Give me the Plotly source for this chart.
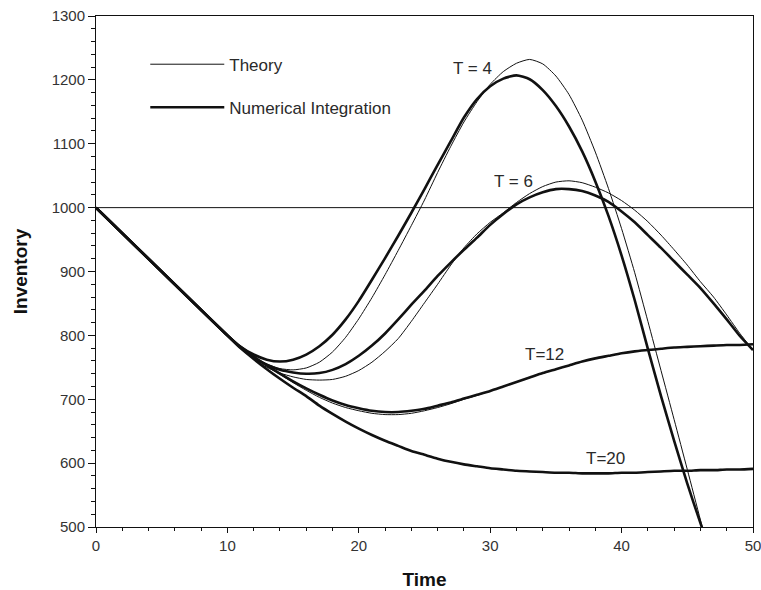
import plotly.graph_objects as go

# ---------------- data ----------------
# common time grid (t = 0 .. 50); the early part is a straight decline
time_full = [0, 10] + list(range(11, 51))
time_T4 = [0, 10] + list(range(11, 48))

# T = 4
t4_theory = [1000, 800, 781, 766, 755, 748, 746, 749, 758, 774, 797, 826, 859, 895,
             933, 972, 1012, 1055, 1096, 1134, 1166, 1193, 1213, 1226, 1232, 1225,
             1206, 1177, 1137, 1087, 1030, 967, 898, 822, 745, 668, 590, 511, 432]
t4_numeric = [1000, 800, 782, 770, 762, 759, 762, 770, 783, 801, 825, 854, 887, 921,
              956, 992, 1029, 1067, 1104, 1141, 1170, 1190, 1202, 1207, 1201, 1184,
              1159, 1127, 1088, 1041, 987, 925, 855, 779, 705, 635, 568, 506, 447]

# T = 6
t6_theory = [1000, 800, 780, 763, 750, 741, 735, 731, 730, 731, 736, 745, 758, 775,
             795, 822, 851, 880, 910, 937, 959, 977, 992, 1008, 1022, 1033, 1040,
             1042, 1039, 1032, 1023, 1011, 996, 978, 957, 934, 910, 884, 860, 832,
             803, 777]
t6_numeric = [1000, 800, 781, 765, 754, 746, 742, 740, 741, 746, 755, 768, 784, 803,
              825, 848, 870, 893, 914, 934, 953, 973, 990, 1005, 1016, 1024, 1029,
              1029, 1026, 1019, 1009, 994, 977, 957, 937, 916, 895, 874, 850, 825,
              799, 777]

# T = 12
t12_theory = [1000, 800, 782, 767, 752, 739, 726, 714, 703, 694, 687, 682, 678, 676,
              676, 678, 682, 687, 693, 700, 706, 713, 720, 727, 734, 741, 747, 753,
              759, 764, 768, 772, 775, 777, 779, 781, 782, 783, 784, 785, 785, 786]
t12_numeric = [1000, 800, 782, 767, 753, 740, 728, 717, 707, 698, 691, 686, 682, 680,
               680, 682, 685, 690, 695, 701, 707, 713, 720, 727, 734, 741, 747, 753,
               759, 764, 768, 772, 775, 777, 779, 781, 782, 783, 784, 785, 785, 786]

# T = 20
t20_theory = [1000, 800, 780, 763, 747, 732, 718, 705, 690, 677, 665, 654, 644, 635,
              627, 619, 613, 607, 602, 598, 595, 592, 590, 588, 587, 586, 585, 585,
              584, 584, 584, 585, 585, 586, 587, 588, 588, 589, 589, 590, 590, 591]
t20_numeric = [1000, 800, 780, 763, 747, 732, 718, 705, 690, 677, 665, 654, 644, 635,
               627, 619, 613, 607, 602, 598, 595, 592, 590, 588, 587, 586, 585, 585,
               584, 584, 584, 585, 585, 586, 587, 588, 588, 589, 589, 590, 590, 591]

reference_level = 1000
curve_labels = ["T = 4", "T = 6", "T=12", "T=20"]
legend_names = ["Theory", "Numerical Integration"]
x_title = "Time"
y_title = "Inventory"

# label anchor positions (time, inventory)
label_pos = [(28.65, 1218), (31.8, 1041), (34.1, 769.5), (38.8, 607.5)]

# ---------------- figure ----------------
FONT = "Arial, 'Liberation Sans', sans-serif"
INK = "#111111"
TXT = "#2a2a2a"

fig = go.Figure()

series = [
    (time_T4, t4_theory, t4_numeric),
    (time_full, t6_theory, t6_numeric),
    (time_full, t12_theory, t12_numeric),
    (time_full, t20_theory, t20_numeric),
]

for i, (tt, th, nu) in enumerate(series):
    fig.add_trace(go.Scatter(
        x=tt, y=th, mode="lines", name=legend_names[0],
        legendgroup="theory", showlegend=(i == 0),
        line=dict(color=INK, width=1, shape="spline", smoothing=0.6),
    ))
for i, (tt, th, nu) in enumerate(series):
    fig.add_trace(go.Scatter(
        x=tt, y=nu, mode="lines", name=legend_names[1],
        legendgroup="numeric", showlegend=(i == 0),
        line=dict(color=INK, width=2.6, shape="spline", smoothing=0.6),
    ))

fig.add_hline(y=reference_level, line=dict(color=INK, width=1))

for txt, (xx, yy) in zip(curve_labels, label_pos):
    fig.add_annotation(x=xx, y=yy, text=txt, showarrow=False,
                       font=dict(family=FONT, size=17, color=TXT),
                       xanchor="center", yanchor="middle")

axis_common = dict(
    showline=True, linecolor=INK, linewidth=1, mirror=True,
    showgrid=False, zeroline=False, ticks="outside", tickcolor=INK,
    tickfont=dict(family=FONT, size=15, color="#333333"),
    ticklabeloverflow="allow",
)

fig.update_xaxes(
    range=[0, 50], dtick=10, tick0=0, ticklen=5, tickwidth=1,
    minor=dict(dtick=2, ticklen=3, ticks="outside", tickcolor=INK),
    title=dict(text="<b>" + x_title + "</b>", standoff=20,
               font=dict(family=FONT, size=19, color="#111111")),
    **axis_common,
)
fig.update_yaxes(
    range=[500, 1300], dtick=100, tick0=500, ticklen=7, tickwidth=1,
    minor=dict(dtick=20, ticklen=4, ticks="outside", tickcolor=INK),
    title=dict(text="<b>" + y_title + "</b>", standoff=18,
               font=dict(family=FONT, size=19, color="#111111")),
    **axis_common,
)

fig.update_layout(
    width=761, height=590,
    margin=dict(l=96, r=8, t=16, b=63, autoexpand=False),
    plot_bgcolor="white", paper_bgcolor="white",
    showlegend=True,
    legend=dict(
        x=0.075, y=0.94, xanchor="left", yanchor="top",
        font=dict(family=FONT, size=17, color=TXT),
        bgcolor="rgba(0,0,0,0)", borderwidth=0,
        traceorder="grouped", tracegroupgap=18, itemwidth=74,
    ),
)

fig.write_html("out.html")
